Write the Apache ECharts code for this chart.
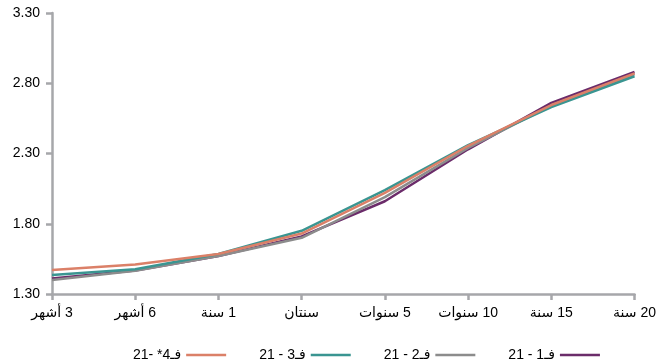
<!DOCTYPE html>
<html><head><meta charset="utf-8">
<script src="https://cdn.jsdelivr.net/npm/echarts@6/dist/echarts.min.js"></script>
<style>html,body{margin:0;padding:0;background:#fff}#c{width:659px;height:361px}</style>
</head><body><div id="c"></div>
<script>
const categories = ['3 أشهر','6 أشهر','1 سنة','سنتان','5 سنوات','10 سنوات','15 سنة','20 سنة'];
const q1 = [1.41, 1.467, 1.57, 1.71, 1.96, 2.33, 2.66, 2.88];
const q2 = [1.40, 1.465, 1.57, 1.70, 1.99, 2.34, 2.64, 2.865];
const q3 = [1.435, 1.476, 1.585, 1.75, 2.04, 2.36, 2.63, 2.85];
const q4 = [1.47, 1.51, 1.585, 1.73, 2.02, 2.355, 2.645, 2.87];
const names = ['فـ1 - 21','فـ2 - 21','فـ3 - 21','فـ4* -21'];
const colors = ['#6B2C6A','#8C8C8C','#3A9591','#DB8068'];
const yTicks = [1.30, 1.80, 2.30, 2.80, 3.30];

const font = '"Liberation Sans", "DejaVu Sans", sans-serif';
const chart = echarts.init(document.getElementById('c'));
const vals = [q1,q2,q3,q4];
chart.setOption({
  animation:false,
  grid:{left:52,right:20,top:13,bottom:67},
  legend:{
    data:[names[3],names[2],names[1],names[0]],
    left:128, top:343, align:'right', icon:'rect',
    itemWidth:40, itemHeight:2.5, itemGap:33,
    textStyle:{fontFamily:font,fontSize:14,color:'#000'}
  },
  xAxis:{type:'category',data:categories,boundaryGap:false,
    axisLine:{lineStyle:{color:'#A6A7AA',width:2.5}},
    axisTick:{show:true,length:6,lineStyle:{color:'#A6A7AA',width:2.5}},
    axisLabel:{margin:12,fontFamily:font,fontSize:14,color:'#000',
      formatter:v=>'\u200F'+v}},
  yAxis:{type:'value',min:yTicks[0],max:yTicks[yTicks.length-1],interval:0.5,
    splitLine:{show:false},
    axisLine:{show:true,lineStyle:{color:'#A6A7AA',width:2.5}},
    axisTick:{show:true,length:6,lineStyle:{color:'#A6A7AA',width:2.5}},
    axisLabel:{margin:12,fontFamily:font,fontSize:14,color:'#000',formatter:v=>v.toFixed(2)}},
  series:[0,1,2,3].map(i=>({
    name:names[i],type:'line',data:vals[i],showSymbol:false,symbol:'none',
    lineStyle:{color:colors[i],width:2.5},itemStyle:{color:colors[i]},z:2+i
  }))
});
</script></body></html>
